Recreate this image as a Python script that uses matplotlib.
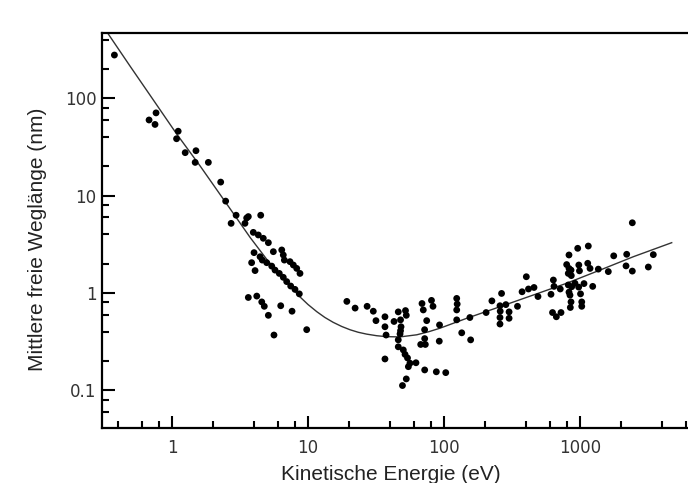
import numpy as np
import matplotlib
matplotlib.use("Agg")
import matplotlib.pyplot as plt
from matplotlib.ticker import LogLocator, FixedLocator, FixedFormatter, NullFormatter

# Universal curve (fit) of the inelastic mean free path
curve_energy = [0.336, 0.491, 0.689, 1.083, 1.61, 2.82, 3.75, 4.97, 6.58, 8.73,
                10.0, 11.6, 13.3, 15.3, 17.7, 20.4, 23.4, 27.0, 32.0, 37.9,
                47.5, 63, 76.7, 93.5, 147, 258, 454, 798, 1403, 2466, 4725]
curve_lambda = [470, 215, 108, 43, 20.2, 6.6, 3.73, 2.22, 1.40, 0.912,
                0.762, 0.643, 0.561, 0.500, 0.453, 0.419, 0.395, 0.378, 0.364, 0.356,
                0.354, 0.372, 0.399, 0.435, 0.550, 0.723, 0.954, 1.26, 1.72, 2.36, 3.29]

# Measured values: kinetic energy (eV) and mean free path (nm)
meas_energy = [
    0.377, 0.678, 0.750, 0.763, 1.11, 1.08, 1.25, 1.50, 1.48, 1.85, 2.28, 2.48, 2.72, 2.96,
    3.44, 3.54, 3.64, 4.49, 3.96, 4.31, 4.69, 5.11, 4.01, 3.85, 4.08, 4.44, 4.61, 4.97,
    5.41, 5.72, 6.15, 6.58, 6.97, 7.46, 8.02, 8.63, 5.56, 6.41, 6.58, 6.70, 7.37, 7.80,
    8.26, 8.73,
    3.64, 4.2, 4.57, 4.77, 5.11, 6.3, 7.63, 5.62, 9.78,
    19.3, 22.2, 27.2, 30.2, 31.6, 36.8, 36.8, 37.5, 36.8, 42.9, 46.1, 52.1, 52.8, 47.9,
    48.3, 47.9, 47.5, 46.1, 46.1, 50.2, 51.7, 53.9, 56.2, 54.7, 62.2, 52.8, 49.5,
    68.9, 70.4, 80.9, 83.0, 74.6, 72.0, 72.1, 67.4, 72.9, 72.1, 87.8, 103, 92.7, 92.3,
    124, 125, 124, 124, 135, 155, 157,
    204, 225, 265, 258, 285, 259, 301, 258, 301, 258, 347, 375, 403, 418, 459, 491,
    612, 637, 644, 628, 670, 725, 716,
    798, 830, 830, 820, 863, 859, 962, 980, 991, 1151, 1140, 1185, 1364,
    820, 869, 918, 1070, 978, 830, 844, 1009, 1240, 859, 1030, 1030, 849,
    1615, 1770, 2205, 2180, 2425, 2425, 3180, 3460,
]
meas_lambda = [
    279, 60, 54, 71, 46, 38.5, 27.7, 29, 22, 22, 13.8, 8.8, 5.2, 6.3,
    5.2, 5.9, 6.1, 6.3, 4.2, 3.95, 3.65, 3.29, 2.6, 2.05, 1.70, 2.36, 2.18, 2.05,
    1.89, 1.72, 1.59, 1.45, 1.31, 1.18, 1.09, 0.98, 2.66, 2.77, 2.46, 2.18, 2.10, 1.94,
    1.79, 1.59,
    0.90, 0.93, 0.81, 0.73, 0.59, 0.74, 0.65, 0.37, 0.42,
    0.82, 0.70, 0.73, 0.65, 0.52, 0.57, 0.45, 0.37, 0.21, 0.51, 0.64, 0.66, 0.59, 0.53,
    0.45, 0.41, 0.38, 0.33, 0.28, 0.26, 0.234, 0.215, 0.19, 0.175, 0.192, 0.131, 0.112,
    0.78, 0.67, 0.84, 0.73, 0.52, 0.42, 0.34, 0.296, 0.296, 0.162, 0.155, 0.152, 0.47, 0.32,
    0.88, 0.77, 0.67, 0.53, 0.39, 0.56, 0.33,
    0.63, 0.83, 0.99, 0.74, 0.76, 0.65, 0.64, 0.56, 0.55, 0.48, 0.73, 1.03, 1.47, 1.10, 1.14, 0.92,
    0.97, 1.36, 1.17, 0.63, 0.57, 0.63, 1.10,
    1.96, 2.46, 1.79, 1.59, 1.51, 1.72, 2.88, 1.94, 1.69, 3.04, 2.02, 1.79, 1.76,
    1.21, 1.16, 1.26, 1.25, 1.15, 1.02, 0.95, 0.98, 1.17, 0.81, 0.81, 0.73, 0.71,
    1.66, 2.41, 2.50, 1.90, 5.27, 1.68, 1.85, 2.48,
]

x_major = [1, 10, 100, 1000]
x_major_labels = ["1", "10", "100", "1000"]
y_major = [0.1, 1, 10, 100]
y_major_labels = ["0.1", "1", "10", "100"]

W, H = 688, 483
fig = plt.figure(figsize=(W / 100, H / 100), dpi=100)
ax = fig.add_axes([102 / W, 55 / H, 588 / W, 395 / H])

ax.set_xscale("log")
ax.set_yscale("log")
ax.set_xlim(0.3056, 6440)
ax.set_ylim(0.0410, 470)

ax.plot(curve_energy, curve_lambda, color="#333333", lw=1.0, zorder=2,
        solid_joinstyle="round")
ax.scatter(meas_energy, meas_lambda, s=24, color="black", edgecolors="none", zorder=3)

for axis, major, labels in ((ax.xaxis, x_major, x_major_labels),
                            (ax.yaxis, y_major, y_major_labels)):
    axis.set_major_locator(FixedLocator(major))
    axis.set_major_formatter(FixedFormatter(labels))
    axis.set_minor_locator(LogLocator(base=10, subs=(2, 4, 6, 8), numticks=20))
    axis.set_minor_formatter(NullFormatter())

ax.tick_params(which="major", direction="in", length=9, width=1.5, color="black",
               labelsize=12, labelcolor="#333333")
ax.tick_params(which="minor", direction="in", length=5, width=1.5, color="black")
ax.tick_params(axis="x", which="major", pad=8)
ax.tick_params(axis="y", which="major", pad=4)
for lab in ax.get_xticklabels() + ax.get_yticklabels():
    lab.set_fontfamily("DejaVu Sans")

for side in ("left", "bottom", "top"):
    ax.spines[side].set_linewidth(1.6)
ax.spines["right"].set_visible(False)

fig.text(391 / W, 1 - 480 / H, "Kinetische Energie (eV)", ha="center", va="baseline",
         fontsize=15, family="Liberation Sans", color="#222222")
fig.text(43 / W, 1 - 239 / H, "Mittlere freie Weglänge (nm)", rotation=90,
         rotation_mode="anchor", ha="center", va="baseline",
         fontsize=15, family="Liberation Sans", color="#222222")

fig.savefig("out.png", dpi=100, facecolor="white")
